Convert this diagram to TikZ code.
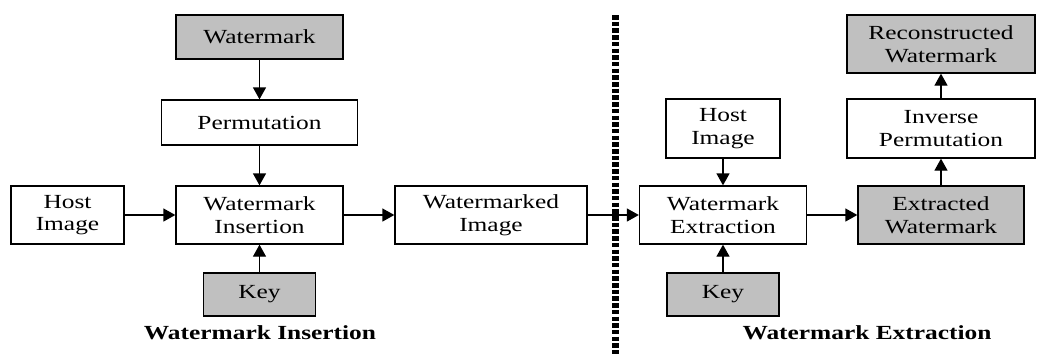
\documentclass[tikz,border=0pt]{standalone}
\usepackage{fontspec}
\setmainfont{Liberation Serif}[FakeStretch=1.27]
\usetikzlibrary{arrows.meta}
\definecolor{boxgray}{RGB}{192,192,192}
\tikzset{
  blk/.style={draw=black, line width=1.3pt, fill=white, inner sep=0pt, align=center,
    font=\fontsize{20}{22.5}\selectfont},
  gblk/.style={blk, fill=boxgray},
  arr/.style={line width=1.3pt, -{Triangle[length=12pt,width=13pt]}},
  lab/.style={font=\fontsize{20}{22.5}\selectfont\bfseries, inner sep=0pt}
}
\begin{document}
\begin{tikzpicture}[x=1pt,y=-1pt]
\useasboundingbox (0,0) rectangle (1037,354);
% left half
\node[gblk, minimum width=167pt, minimum height=44pt] (wm) at (259.5,37) {Watermark};
\node[blk, minimum width=196pt, minimum height=45pt] (perm) at (259.5,122.5) {Permutation};
\node[blk, minimum width=113pt, minimum height=58pt] (host1) at (67.5,215) {Host\\Image};
\node[blk, minimum width=167pt, minimum height=58pt] (ins) at (259.5,215) {Watermark\\Insertion};
\node[gblk, minimum width=112pt, minimum height=43pt] (key1) at (259.5,294.5) {Key};
\node[blk, minimum width=192pt, minimum height=58pt] (wmi) at (491,215) {Watermarked\\Image};
\node[lab] (lab1) at (260,333) {Watermark Insertion};
% divider
\coordinate (dtop) at (615,15);
\coordinate (dbot) at (615,354);
\draw[line width=7pt, dash pattern=on 4.5pt off 2.2pt] (dtop) -- (dbot);
% right half
\node[blk, minimum width=114pt, minimum height=59pt] (host2) at (723,128.5) {Host\\Image};
\node[blk, minimum width=167pt, minimum height=58pt] (ext) at (723,215) {Watermark\\Extraction};
\node[gblk, minimum width=112pt, minimum height=43pt] (key2) at (723,294.5) {Key};
\node[gblk, minimum width=166pt, minimum height=58pt] (exw) at (941,215) {Extracted\\Watermark};
\node[blk, minimum width=188pt, minimum height=59pt] (inv) at (941,128.5) {Inverse\\Permutation};
\node[gblk, minimum width=188pt, minimum height=58pt] (rec) at (941,44) {Reconstructed\\Watermark};
\node[lab] (lab2) at (867,333) {Watermark Extraction};
% connectors
\draw[arr] (wm.south) -- (perm.north);
\draw[arr] (perm.south) -- (ins.north);
\draw[arr] (host1.east) -- (ins.west);
\draw[arr] (key1.north) -- (ins.south);
\draw[arr] (ins.east) -- (wmi.west);
\draw[arr] (wmi.east) -- (ext.west);
\draw[arr] (host2.south) -- (ext.north);
\draw[arr] (key2.north) -- (ext.south);
\draw[arr] (ext.east) -- (exw.west);
\draw[arr] (exw.north) -- (inv.south);
\draw[arr] (inv.north) -- (rec.south);
\end{tikzpicture}
\end{document}
